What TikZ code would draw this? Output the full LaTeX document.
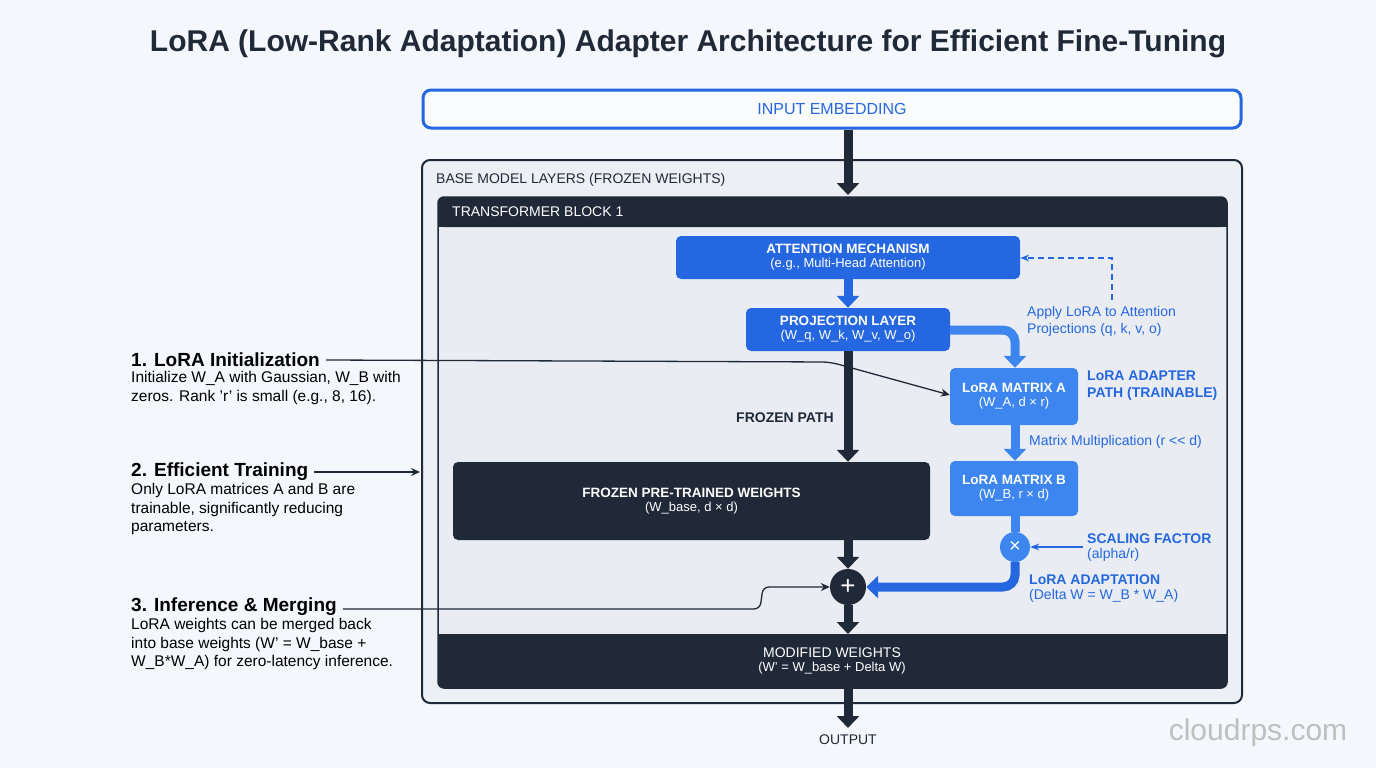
\documentclass[tikz,border=0pt]{standalone}
\usepackage{fontspec}
\setmainfont{Liberation Sans}
\usetikzlibrary{arrows.meta}
\definecolor{dk}{HTML}{1F2937}
\definecolor{bl}{HTML}{2467E0}
\definecolor{lb}{HTML}{3D86EF}
\definecolor{bg}{HTML}{F4F7FB}
\definecolor{pan}{HTML}{ECF0F5}
\definecolor{tb}{HTML}{E9EDF3}
\newcommand{\fs}[1]{\fontsize{#1pt}{\dimexpr#1pt*6/5\relax}\selectfont}
\tikzset{
 x=1pt,y=-1pt,
 bbox/.style={rounded corners=5pt,inner sep=0pt,text=white,align=center,font=\fs{13.5}\bfseries},
 fat/.style={line width=9pt,-{Triangle[length=12pt,width=22pt]}},
 thin/.style={line width=1.3pt,draw=dk,-{Stealth[length=9pt,width=8pt]}},
 lbl/.style={anchor=west,align=left,inner sep=0pt},
}
\begin{document}
\begin{tikzpicture}
\useasboundingbox (0,0) rectangle (1376,768);
\fill[bg] (0,0) rectangle (1376,768);
\node[font=\fs{30}\bfseries,text=dk] (title) at (688,44) {LoRA (Low-Rank Adaptation) Adapter Architecture for Efficient Fine-Tuning};
\node[draw=bl,line width=3pt,fill=white!60!bg,rounded corners=8pt,minimum width=818pt,minimum height=38pt,text=bl,font=\fs{16}] (inp) at (832,109) {INPUT EMBEDDING};
\node[draw=dk,line width=2pt,fill=pan,rounded corners=8pt,minimum width=820pt,minimum height=543pt] (outer) at (832,431.5) {};
\node[lbl,text=dk,font=\fs{14}] (outl) at (436,180) {BASE MODEL LAYERS (FROZEN WEIGHTS)};
\node[fill=tb,draw=dk,line width=1.5pt,rounded corners=6pt,minimum width=789pt,minimum height=491pt] (blk) at (832.5,442.5) {};
\fill[dk,rounded corners=6pt] (438,197) rectangle (1227,227);
\fill[dk] (438,215) rectangle (1227,227);
\node[lbl,text=white,font=\fs{14}] (blkl) at (452,212) {TRANSFORMER BLOCK 1};
\fill[dk,rounded corners=6pt] (438,634) rectangle (1227,688);
\fill[dk] (438,634) rectangle (1227,645);
\node[text=white,align=center,font=\fs{14}] (mod) at (832,661) {MODIFIED WEIGHTS\\[-2pt]{\fs{13}(W' = W\_base + Delta W)}};
\node[bbox,fill=bl,minimum width=344pt,minimum height=43pt] (att) at (848,257.5) {ATTENTION MECHANISM\\[-2pt]{\fs{13}\mdseries(e.g., Multi-Head Attention)}};
\node[bbox,fill=bl,minimum width=204pt,minimum height=43pt] (proj) at (848,329.5) {PROJECTION LAYER\\[-2pt]{\fs{13}\mdseries(W\_q, W\_k, W\_v, W\_o)}};
\node[bbox,fill=lb,minimum width=128pt,minimum height=57pt] (la) at (1014,396.5) {LoRA MATRIX A\\[-2pt]{\fs{13}\mdseries(W\_A, d × r)}};
\node[bbox,fill=lb,minimum width=128pt,minimum height=55pt] (lbm) at (1014,488.5) {LoRA MATRIX B\\[-2pt]{\fs{13}\mdseries(W\_B, r × d)}};
\node[bbox,fill=dk,minimum width=477pt,minimum height=78pt] (froz) at (691.5,501) {FROZEN PRE-TRAINED WEIGHTS\\[-2pt]{\fs{13}\mdseries(W\_base, d × d)}};
\node[circle,fill=lb,minimum size=30pt,inner sep=0pt,text=white,font=\fs{20}] (mul) at (1015,547) {×};
\node[circle,fill=dk,minimum size=36pt,inner sep=0pt,text=white,font=\fs{26}] (plus) at (848,587) {+};
\node[text=dk,font=\fs{14}] (out) at (848,740) {OUTPUT};
\coordinate (out0) at (848,728);
% main arrows
\draw[fat,dk] (inp.south -| 848,0) -- (848,195);
\draw[fat,bl] (att.south) -- (proj.north);
\draw[fat,dk] (proj.south) -- (froz.north -| 848,0);
\draw[fat,dk] (froz.south -| 848,0) -- (plus.north);
\draw[fat,dk] (plus.south) -- (848,634);
\draw[fat,dk] (848,688) -- (out0);
% lora path
\draw[fat,lb,rounded corners=12pt] (proj.east |- 0,330) -- (1015,330) -- (la.north -| 1015,0);
\draw[fat,lb] (la.south -| 1015,0) -- (lbm.north -| 1015,0);
\draw[line width=9pt,lb] (lbm.south -| 1015,0) -- (mul.north);
\draw[fat,bl,rounded corners=12pt] (mul.south) -- (1015,587) -- (plus.east);
\draw[bl,line width=1.3pt,dash pattern=on 6pt off 4pt,-{Stealth[length=9pt]}] (1112,300) -- (1112,258) -- (att.east |- 0,258);
\node[lbl,text=bl,font=\fs{14}] (apply) at (1027,321) {Apply LoRA to Attention\\Projections (q, k, v, o)};
\node[lbl,text=bl,font=\fs{14}\bfseries] (adpt) at (1087,386) {LoRA ADAPTER\\PATH (TRAINABLE)};
\node[lbl,text=bl,font=\fs{14}] (mm) at (1029,442) {Matrix Multiplication (r {<}{<} d)};
\node[lbl,text=bl,font=\fs{14}\bfseries] (sf) at (1087,539) {SCALING FACTOR};
\node[lbl,text=bl,font=\fs{14}] (sf2) at (1087,555) {(alpha/r)};
\node[lbl,text=bl,font=\fs{14}\bfseries] (ad) at (1029,580) {LoRA ADAPTATION};
\node[lbl,text=bl,font=\fs{14}] (ad2) at (1029,596) {(Delta W = W\_B * W\_A)};
\draw[bl,line width=1.3pt,-{Stealth[length=9pt]}] (sf.west |- mul) ++(-4,0) -- (mul.east);
\node[lbl,text=dk,font=\fs{14}\bfseries] (fp) at (736,418) {FROZEN PATH};
% left notes
\node[lbl,text=black,font=\fs{19}\bfseries] (h1) at (131,360) {1. LoRA Initialization};
\node[lbl,text=black,font=\fs{15.5},anchor=north west] (b1) at (131,371) {Initialize W\_A with Gaussian, W\_B with\\zeros. Rank 'r' is small (e.g., 8, 16).};
\node[lbl,text=black,font=\fs{19}\bfseries] (h2) at (131,472) {2. Efficient Training};
\node[lbl,text=black,font=\fs{15.5},anchor=north west] (b2) at (131,483) {Only LoRA matrices A and B are\\trainable, significantly reducing\\parameters.};
\node[lbl,text=black,font=\fs{19}\bfseries] (h3) at (131,607) {3. Inference \& Merging};
\node[lbl,text=black,font=\fs{15.5},anchor=north west] (b3) at (131,618) {LoRA weights can be merged back\\into base weights (W' = W\_base +\\W\_B*W\_A) for zero-latency inference.};
\draw[thin,rounded corners=8pt] (h1.east) ++(6,0) -- (830,362) -- (la.west |- 0,395);
\draw[thin] (h2.east) ++(6,0) -- (420,472);
\draw[thin,rounded corners=6pt] (h3.east) ++(6,2) -- (760,609) -- (763,587) -- (plus.west);
\node[text=black!25,font=\fs{30}] (wm) at (1258,733) {cloudrps.com};
\end{tikzpicture}
\end{document}
